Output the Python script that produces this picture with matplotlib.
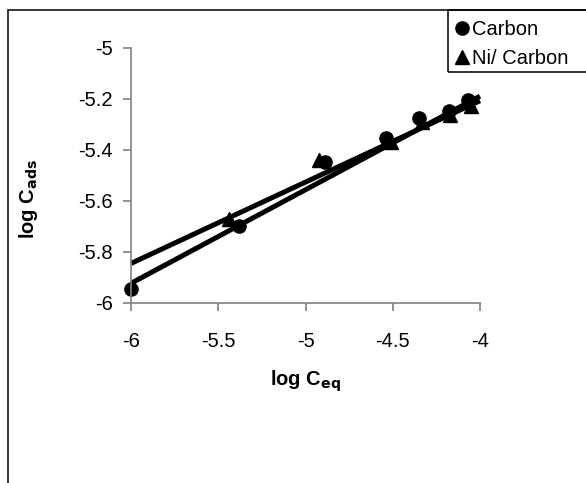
import numpy as np
import matplotlib
matplotlib.use('Agg')
from matplotlib import pyplot as plt
from matplotlib.patches import Rectangle

plt.rcParams['font.family'] = ['Liberation Sans', 'DejaVu Sans']

# dati
carbon_x = [-6.00, -5.38, -4.89, -4.54, -4.35, -4.18, -4.07]
carbon_y = [-5.947, -5.70, -5.45, -5.355, -5.275, -5.248, -5.205]
ni_x = [-5.44, -4.92, -4.51, -4.33, -4.17, -4.05]
ni_y = [-5.67, -5.44, -5.37, -5.29, -5.265, -5.228]

# rette di tendenza (estremi)
trend_x = [-6, -4]
carbon_trend = [-5.924, -5.19]
ni_trend = [-5.846, -5.208]

x_ticks = [-6, -5.5, -5, -4.5, -4]
x_labels = ['-6', '-5.5', '-5', '-4.5', '-4']
y_ticks = [-6, -5.8, -5.6, -5.4, -5.2, -5]
y_labels = ['-6', '-5.8', '-5.6', '-5.4', '-5.2', '-5']

fig = plt.figure(figsize=(5.86, 4.83), dpi=100)
ax = fig.add_axes([131 / 586, 1 - 302.7 / 483, (480 - 131) / 586, (302.7 - 47.7) / 483])

ax.plot(trend_x, carbon_trend, color='black', lw=3.6, solid_capstyle='butt', clip_on=False)
ax.plot(trend_x, ni_trend, color='black', lw=3.6, solid_capstyle='butt', clip_on=False)

c1, = ax.plot(carbon_x, carbon_y, 'o', color='black', ms=9.5, ls='none', clip_on=False)
c2, = ax.plot(ni_x, ni_y, '^', color='black', ms=9.5, ls='none', clip_on=False)

ax.set_xlim(-6, -4)
ax.set_ylim(-6, -5)
ax.set_xticks(x_ticks)
ax.set_xticklabels(x_labels)
ax.set_yticks(y_ticks)
ax.set_yticklabels(y_labels)

for s in ['top', 'right']:
    ax.spines[s].set_visible(False)
for s in ['left', 'bottom']:
    ax.spines[s].set_color('#808080')
    ax.spines[s].set_linewidth(1.2)
ax.tick_params(direction='out', length=6, width=1.2, color='#808080', labelsize=14.5)
ax.tick_params(axis='y', pad=7)
ax.tick_params(axis='x', pad=15)

ax.set_xlabel(r'log C$_{\mathbf{eq}}$', fontsize=14.5, fontweight='bold')
ax.set_ylabel(r'log C$_{\mathbf{ads}}$', fontsize=14.5, fontweight='bold')
ax.xaxis.set_label_coords(0.5, -0.26)
ax.yaxis.set_label_coords(-0.26, 0.407)

# cornice esterna e riquadro della legenda
fig.patches.append(Rectangle((8 / 586, -0.1), 1.2, 1 - 10 / 483 + 0.1, transform=fig.transFigure,
                             fill=False, edgecolor='black', lw=1.1))
fig.patches.append(Rectangle((448 / 586, 1 - 72 / 483), 0.5, 62 / 483, transform=fig.transFigure,
                             fill=False, edgecolor='black', lw=1.1))
fig.legend([c1, c2], ['Carbon', 'Ni/ Carbon'], loc='upper left',
           bbox_to_anchor=(445 / 586, 1 - 10 / 483), frameon=False, fontsize=14.5,
           borderaxespad=0, borderpad=0.5, handlelength=0.7, handletextpad=0.15,
           labelspacing=0.5, markerscale=1.0)

fig.savefig('out.png', dpi=100)
